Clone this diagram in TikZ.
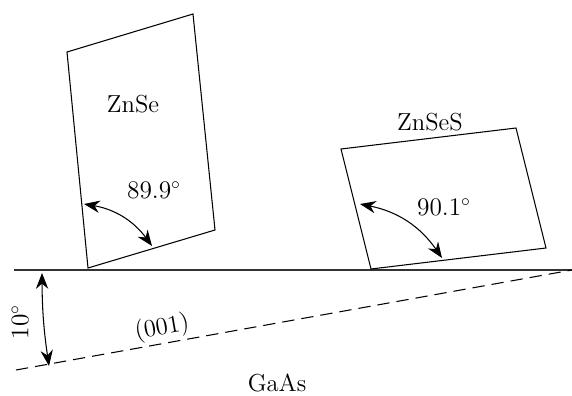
\documentclass[tikz,border=0pt]{standalone}
\usetikzlibrary{arrows.meta}

\begin{document}
\begin{tikzpicture}[x=0.02cm, y=-0.02cm,
  lbl/.style={font=\fontsize{14}{16}\selectfont, inner sep=1pt},
  angarrow/.style={{Stealth[length=9pt,width=7pt]}-{Stealth[length=9pt,width=7pt]}, semithick}]

  \useasboundingbox (0,0) rectangle (572,396);

  % Substrate surface and (001) plane
  \coordinate (sl) at (14,270);
  \coordinate (sr) at (572,270);
  \coordinate (pl) at (16,370);
  \draw[thick, black!80] (sl) -- (sr);
  \draw[semithick, dash pattern=on 7pt off 4pt] (pl) -- (sr);

  % ZnSe layer
  \coordinate (a1) at (88,268);
  \coordinate (a2) at (215,230);
  \coordinate (a3) at (193,14);
  \coordinate (a4) at (67,52);
  \draw[semithick] (a1) -- (a2) -- (a3) -- (a4) -- cycle;
  \node[lbl] (znse) at (133,104) {ZnSe};

  % ZnSeS layer
  \coordinate (b1) at (371,269);
  \coordinate (b2) at (546,248);
  \coordinate (b3) at (516,128);
  \coordinate (b4) at (341,149);
  \draw[semithick] (b1) -- (b2) -- (b3) -- (b4) -- cycle;
  \node[lbl] (znses) at (430,122) {ZnSeS};

  % Angles
  \coordinate (p1) at (84,204);
  \coordinate (q1) at (152,246);
  \draw[angarrow] (p1) to[bend left=22] (q1);
  \node[lbl] (ang1) at (154,190) {$89.9^\circ$};

  \coordinate (p2) at (360,204);
  \coordinate (q2) at (442,258);
  \draw[angarrow] (p2) to[bend left=22] (q2);
  \node[lbl] (ang2) at (444,207) {$90.1^\circ$};

  % Miscut
  \coordinate (m1) at (42,273);
  \coordinate (m2) at (49,366);
  \draw[angarrow] (m1) to[bend right=4] (m2);
  \node[lbl, rotate=90] (tilt) at (20,322) {$10^\circ$};

  \node[lbl, rotate=10] (plane) at (162,328) {(001)};
  \node[lbl] (gaas) at (277,383) {GaAs};

\end{tikzpicture}
\end{document}
